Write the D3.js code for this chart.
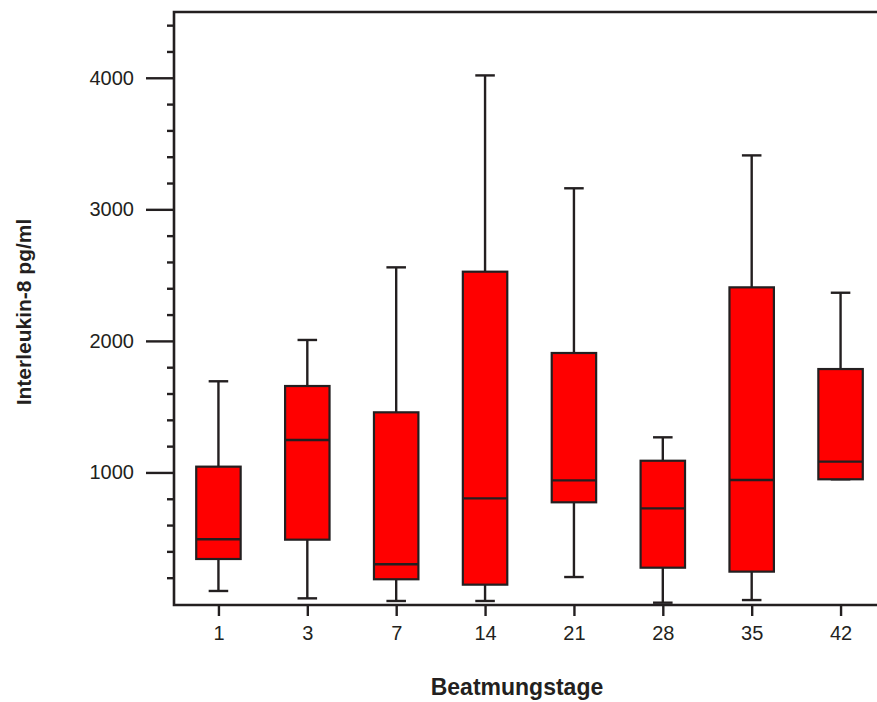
<!DOCTYPE html>
<html>
<head>
<meta charset="utf-8">
<script src="https://cdn.jsdelivr.net/npm/d3@7"></script>
<style>
  html, body { margin: 0; padding: 0; background: #fff; }
  svg { display: block; }
  text { font-family: "Liberation Sans", Arial, sans-serif; fill: #231f20; }
</style>
</head>
<body>
<svg id="chart" width="877" height="702"></svg>
<script>
// Ventilation days (categories)
const days = ["1", "3", "7", "14", "21", "28", "35", "42"];
// Box statistics per day (pg/ml)
const whiskerLow  = [ 99,   43,   23,   23,  205,   10,   30,  948];
const quartile1   = [342,  489,  188,  147,  773,  276,  246,  948];
const medians     = [492, 1247,  302,  803,  940,  727,  943, 1082];
const quartile3   = [1044, 1657, 1457, 2526, 1908, 1089, 2407, 1786];
const whiskerHigh = [1693, 2007, 2559, 4018, 3160, 1267, 3410, 2366];
// Axis ticks
const majorTicks = [1000, 2000, 3000, 4000];
const minorTicks = d3.range(200, 4500, 200).filter(v => v % 1000 !== 0);

const ink = "#231f20";
const svg = d3.select("#chart");

const plotLeft = 174, plotRight = 885, plotTop = 12, plotBottom = 604;

const x = d3.scalePoint().domain(days).range([plotLeft, plotRight]).padding(0.5);
const y = d3.scaleLinear().domain([0, 4500]).range([plotBottom, plotTop]);
const boxW = x.step() * 0.5;
const capW = x.step() * 0.22;

const rows = days.map((d, i) => ({
  day: d, lo: whiskerLow[i], q1: quartile1[i], med: medians[i],
  q3: quartile3[i], hi: whiskerHigh[i]
}));

// Boxes
const g = svg.append("g");
const box = g.selectAll("g.box").data(rows).join("g").attr("class", "box");

box.append("line")
  .attr("x1", d => x(d.day)).attr("x2", d => x(d.day))
  .attr("y1", d => y(d.hi)).attr("y2", d => y(d.q3))
  .attr("stroke", ink).attr("stroke-width", 2.4);
box.append("line")
  .attr("x1", d => x(d.day)).attr("x2", d => x(d.day))
  .attr("y1", d => y(d.q1)).attr("y2", d => y(d.lo))
  .attr("stroke", ink).attr("stroke-width", 2.4);
box.append("line")
  .attr("x1", d => x(d.day) - capW / 2).attr("x2", d => x(d.day) + capW / 2)
  .attr("y1", d => y(d.hi)).attr("y2", d => y(d.hi))
  .attr("stroke", ink).attr("stroke-width", 2.4);
box.append("line")
  .attr("x1", d => x(d.day) - capW / 2).attr("x2", d => x(d.day) + capW / 2)
  .attr("y1", d => y(d.lo)).attr("y2", d => y(d.lo))
  .attr("stroke", ink).attr("stroke-width", 2.4);
box.append("rect")
  .attr("x", d => x(d.day) - boxW / 2).attr("width", boxW)
  .attr("y", d => y(d.q3)).attr("height", d => y(d.q1) - y(d.q3))
  .attr("fill", "#ff0000").attr("stroke", ink).attr("stroke-width", 2.2);
box.append("line")
  .attr("x1", d => x(d.day) - boxW / 2).attr("x2", d => x(d.day) + boxW / 2)
  .attr("y1", d => y(d.med)).attr("y2", d => y(d.med))
  .attr("stroke", ink).attr("stroke-width", 2.4);

// Y axis: major ticks with labels, minor ticks without
const yMajor = svg.append("g").attr("transform", `translate(${plotLeft},0)`)
  .call(d3.axisLeft(y).tickValues(majorTicks).tickSize(28).tickPadding(12)
    .tickFormat(d3.format("d")));
const yMinor = svg.append("g").attr("transform", `translate(${plotLeft},0)`)
  .call(d3.axisLeft(y).tickValues(minorTicks).tickSize(7).tickFormat(""));
[yMajor, yMinor].forEach(a => {
  a.select(".domain").remove();
  a.selectAll(".tick line").attr("stroke", ink).attr("stroke-width", 2.4);
});
yMajor.selectAll(".tick text").attr("font-size", 20).attr("fill", ink)
  .style("font-family", "'Liberation Sans', Arial, sans-serif");

// X axis
const xAxis = svg.append("g").attr("transform", `translate(0,${plotBottom})`)
  .call(d3.axisBottom(x).tickSize(12).tickPadding(10));
xAxis.select(".domain").remove();
xAxis.selectAll(".tick line").attr("stroke", ink).attr("stroke-width", 2.4);
xAxis.selectAll(".tick text").attr("font-size", 20).attr("fill", ink)
  .style("font-family", "'Liberation Sans', Arial, sans-serif");

// Frame: left, top and bottom edges
svg.append("path")
  .attr("d", `M${plotRight},${y(4500)}H${plotLeft}V${plotBottom + 1}H${plotRight}`)
  .attr("fill", "none").attr("stroke", ink).attr("stroke-width", 2.6);

// Axis titles
svg.append("text")
  .attr("x", 517).attr("y", 695)
  .attr("text-anchor", "middle").attr("font-size", 23).attr("font-weight", "bold")
  .text("Beatmungstage");
svg.append("text")
  .attr("transform", "translate(31,312) rotate(-90)")
  .attr("text-anchor", "middle").attr("font-size", 21).attr("font-weight", "bold")
  .text("Interleukin-8 pg/ml");
</script>
</body>
</html>
